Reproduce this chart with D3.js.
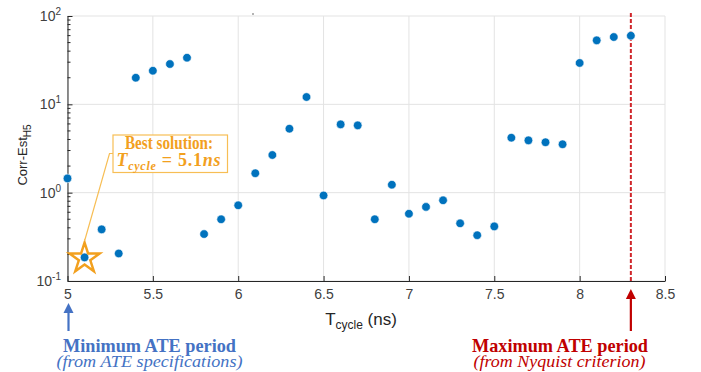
<html>
<head>
<style>
  html, body { margin: 0; padding: 0; background: #fff; }
  text { font-family: "Liberation Sans", Arial, sans-serif; }
  .serif { font-family: "Liberation Serif", "Times New Roman", serif; }
</style>
</head>
<body>
<svg id="viz"></svg>
<script src="https://cdn.jsdelivr.net/npm/d3@7/dist/d3.min.js"></script>
<script>
// cycle period (ns) and the matching Corr-Est H5 values
var tCycle = [5.0, 5.1, 5.2, 5.3, 5.4, 5.5, 5.6, 5.7, 5.8, 5.9,
              6.0, 6.1, 6.2, 6.3, 6.4, 6.5, 6.6, 6.7, 6.8, 6.9,
              7.0, 7.1, 7.2, 7.3, 7.4, 7.5, 7.6, 7.7, 7.8, 7.9,
              8.0, 8.1, 8.2, 8.3];
var corrEst = [1.45, 0.185, 0.384, 0.205, 20, 24, 28.6, 33.7, 0.34, 0.50,
               0.72, 1.66, 2.67, 5.3, 12.1, 0.93, 5.93, 5.78, 0.50, 1.23,
               0.577, 0.69, 0.82, 0.45, 0.33, 0.415, 4.19, 3.91, 3.72, 3.53,
               29.4, 53, 57.8, 59.8];

var xTicks = [5, 5.5, 6, 6.5, 7, 7.5, 8, 8.5];
var xTickLabels = ["5", "5.5", "6", "6.5", "7", "7.5", "8", "8.5"];
var yTicks = [0.1, 1, 10, 100];
var yTickExp = ["-1", "0", "1", "2"];

var bestT = 5.1;      // best solution
var minT = 5.0;       // minimum ATE period
var maxT = 8.3;       // Nyquist limit

var width = 701;
var height = 372;
var blue = "#0072BD";
var orange = "#F2A01E";

var svg = d3.select("#viz").attr("width", width).attr("height", height);

var x = d3.scaleLinear().domain([5, 8.5]).range([67.5, 665]);
var y = d3.scaleLog().domain([0.1, 100]).range([281, 16]);

// grid
var grid = svg.append("g").attr("stroke", "#e3e3e3").attr("stroke-width", 1);
grid.selectAll("line.gx").data(xTicks).enter().append("line")
    .attr("x1", function(d) { return x(d); }).attr("x2", function(d) { return x(d); })
    .attr("y1", y(100)).attr("y2", y(0.1));
grid.selectAll("line.gy").data(yTicks).enter().append("line")
    .attr("y1", function(d) { return y(d); }).attr("y2", function(d) { return y(d); })
    .attr("x1", x(5)).attr("x2", x(8.5));

// axes, MATLAB style ticks pointing inward
var axisColor = "#262626";
var xAxis = svg.append("g")
    .attr("transform", "translate(0," + y(0.1) + ")")
    .call(d3.axisBottom(x).tickValues(xTicks).tickSizeInner(-5).tickSizeOuter(0)
          .tickFormat(function(d, i) { return xTickLabels[i]; }));
xAxis.select(".domain").attr("stroke", axisColor);
xAxis.selectAll(".tick line").attr("stroke", axisColor);
xAxis.selectAll(".tick text").attr("fill", "#404040").attr("font-size", 14)
    .attr("y", 8).attr("dy", "0.71em");

var minorTicks = [];
[0.1, 1, 10].forEach(function(dec) {
    for (var k = 2; k <= 9; k++) minorTicks.push(dec * k);
});

var yAxis = svg.append("g")
    .attr("transform", "translate(" + x(5) + ",0)")
    .call(d3.axisLeft(y).tickValues(yTicks).tickSizeInner(-5).tickSizeOuter(0)
          .tickFormat(""));
yAxis.select(".domain").attr("stroke", axisColor);
yAxis.selectAll(".tick line").attr("stroke", axisColor);
yAxis.selectAll("line.minor").data(minorTicks).enter().append("line")
    .attr("class", "minor")
    .attr("x1", 0).attr("x2", 3)
    .attr("y1", function(d) { return y(d); }).attr("y2", function(d) { return y(d); })
    .attr("stroke", axisColor);

var yLab = svg.append("g").selectAll("text").data(yTicks).enter().append("text")
    .attr("x", 61).attr("y", function(d) { return y(d) + 5; })
    .attr("text-anchor", "end").attr("fill", "#404040").attr("font-size", 14);
yLab.append("tspan").text("10");
yLab.append("tspan").attr("dy", -6).attr("font-size", 10)
    .text(function(d, i) { return yTickExp[i]; });

// axis titles
var xt = svg.append("text").attr("x", 361).attr("y", 325).attr("text-anchor", "middle")
    .attr("fill", "#262626").attr("font-size", 17);
xt.append("tspan").text("T");
xt.append("tspan").attr("dy", 4).attr("font-size", 12).text("cycle");
xt.append("tspan").attr("dy", -4).text(" (ns)");

var yt = svg.append("text").attr("transform", "translate(27," + 155 + ") rotate(-90)")
    .attr("text-anchor", "middle").attr("fill", "#262626").attr("font-size", 13);
yt.append("tspan").text("Corr-Est");
yt.append("tspan").attr("dy", 4).attr("font-size", 10).text("H5");

// stray mark near the top
svg.append("circle").attr("cx", 253).attr("cy", 14).attr("r", 0.8).attr("fill", "#555");

// Nyquist limit
svg.append("line")
    .attr("x1", x(maxT)).attr("x2", x(maxT)).attr("y1", 13).attr("y2", y(0.1))
    .attr("stroke", "#D0262B").attr("stroke-width", 2).attr("stroke-dasharray", "4,2");

// points
svg.append("g").selectAll("circle").data(tCycle).enter().append("circle")
    .attr("cx", function(d) { return x(d); })
    .attr("cy", function(d, i) { return y(corrEst[i]); })
    .attr("r", 4.3)
    .attr("fill", blue)
    .attr("stroke", "#fff").attr("stroke-width", 0.6);

// best solution star
var bestVal = corrEst[tCycle.indexOf(bestT)];
var star = d3.symbol().type(d3.symbolStar).size(280);
svg.append("path").attr("d", star())
    .attr("transform", "translate(" + x(bestT) + "," + (y(bestVal) + 1) + ")")
    .attr("fill", "none").attr("stroke", orange).attr("stroke-width", 2.5);

// leader line and callout box
svg.append("polyline")
    .attr("points", [[x(bestT), 241], [109.5, 153.5], [113, 153.5]].join(" "))
    .attr("fill", "none").attr("stroke", "#F7BE55").attr("stroke-width", 1.2);
svg.append("rect").attr("x", 113).attr("y", 135).attr("width", 114.5).attr("height", 37.5)
    .attr("fill", "#fff").attr("stroke", "#F7BE55").attr("stroke-width", 1.2);
svg.append("text").attr("class", "serif").attr("x", 125).attr("y", 149)
    .attr("fill", orange).attr("font-weight", "bold").attr("font-size", 18)
    .attr("textLength", 88).attr("lengthAdjust", "spacingAndGlyphs")
    .text("Best solution:");
var t2 = svg.append("text").attr("class", "serif").attr("x", 116.5).attr("y", 166)
    .attr("fill", orange).attr("font-weight", "bold").attr("font-size", 18)
    .attr("textLength", 104).attr("lengthAdjust", "spacing");
t2.append("tspan").attr("font-style", "italic").text("T");
t2.append("tspan").attr("font-style", "italic").attr("font-size", 12).attr("dy", 4).text("cycle");
t2.append("tspan").attr("dy", -4).text(" = 5.1");
t2.append("tspan").attr("font-style", "italic").text("ns");

// ATE period arrows
function arrow(xp, yTop, yBot, col) {
    svg.append("line").attr("x1", xp).attr("x2", xp).attr("y1", yTop + 8).attr("y2", yBot)
        .attr("stroke", col).attr("stroke-width", 2.2);
    svg.append("path")
        .attr("d", "M" + xp + "," + yTop + "L" + (xp + 5) + "," + (yTop + 10) + "L" + (xp - 5) + "," + (yTop + 10) + "Z")
        .attr("fill", col);
}
arrow(x(minT) + 1, 303, 331, "#4472C4");
arrow(x(maxT), 289, 331, "#C00000");

svg.append("text").attr("class", "serif").attr("x", 149.5).attr("y", 352)
    .attr("text-anchor", "middle").attr("fill", "#4472C4").attr("font-weight", "bold")
    .attr("font-size", 19).attr("textLength", 173).attr("lengthAdjust", "spacingAndGlyphs")
    .text("Minimum ATE period");
svg.append("text").attr("class", "serif").attr("x", 149.5).attr("y", 367)
    .attr("text-anchor", "middle").attr("fill", "#4472C4").attr("font-style", "italic")
    .attr("font-size", 17).attr("textLength", 186).attr("lengthAdjust", "spacingAndGlyphs")
    .text("(from ATE specifications)");
svg.append("text").attr("class", "serif").attr("x", 560).attr("y", 352)
    .attr("text-anchor", "middle").attr("fill", "#C00000").attr("font-weight", "bold")
    .attr("font-size", 19).attr("textLength", 176).attr("lengthAdjust", "spacingAndGlyphs")
    .text("Maximum ATE period");
svg.append("text").attr("class", "serif").attr("x", 559.5).attr("y", 367)
    .attr("text-anchor", "middle").attr("fill", "#C00000").attr("font-style", "italic")
    .attr("font-size", 17).attr("textLength", 172).attr("lengthAdjust", "spacingAndGlyphs")
    .text("(from Nyquist criterion)");
</script>
</body>
</html>
